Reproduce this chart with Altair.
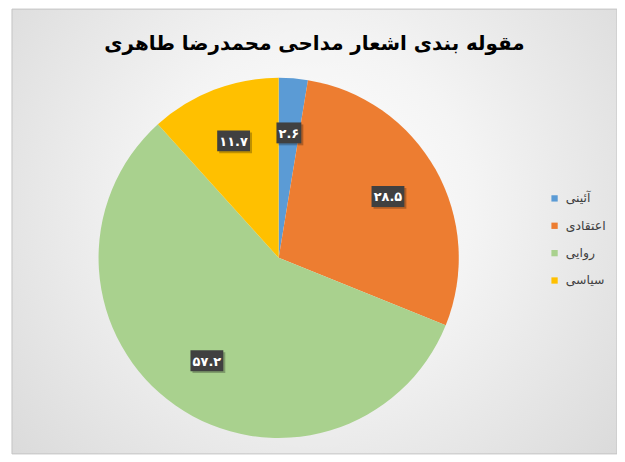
import pandas as pd
import altair as alt

categories = ["آئینی", "اعتقادی", "روایی", "سیاسی"]
values = [2.6, 28.5, 57.2, 11.7]
labels = ["۲.۶", "۲۸.۵", "۵۷.۲", "۱۱.۷"]
colors = ["#5B9BD5", "#ED7D31", "#A9D18E", "#FFC000"]

df = pd.DataFrame({"cat": categories, "val": values, "label": labels,
                   "order": range(len(categories))})

W, H = 608, 447
CX, CY, R = 268, 250, 181
LR = 126  # label radius

bg = alt.Chart(pd.DataFrame({"a": [0]})).mark_rect(
    color=alt.Gradient(
        gradient="radial",
        stops=[alt.GradientStop(color="#ffffff", offset=0),
               alt.GradientStop(color="#f4f4f4", offset=0.35),
               alt.GradientStop(color="#d4d4d4", offset=1)],
        x1=0.5, y1=0.45, r1=0, x2=0.5, y2=0.45, r2=0.75,
    ),
    stroke="#c4c4c4", strokeWidth=1,
).encode(x=alt.value(0), x2=alt.value(W), y=alt.value(0), y2=alt.value(H))

pie = alt.Chart(df).mark_arc(outerRadius=R).encode(
    theta=alt.Theta("val:Q", stack=True),
    order=alt.Order("order:Q"),
    color=alt.Color("cat:N", sort=categories,
                    scale=alt.Scale(domain=categories, range=colors),
                    legend=alt.Legend(title=None)),
    x=alt.value(CX), y=alt.value(CY),
)

lab = alt.Chart(df).transform_joinaggregate(
    total="sum(val)"
).transform_window(
    cum="sum(val)", sort=[alt.SortField("order")], frame=[None, 0]
).transform_calculate(
    ang="2*PI*(datum.cum - datum.val/2)/datum.total",
    px=f"{CX} + {LR}*sin(datum.ang)",
    py=f"{CY} - {LR}*cos(datum.ang)",
    hw="(8*length(datum.label) + 1)/2",
    x0="datum.px - datum.hw", x1="datum.px + datum.hw",
    y0="datum.py - 10.5", y1="datum.py + 10.5",
    sx0="datum.x0 + 2", sx1="datum.x1 + 2",
    sy0="datum.y0 + 2", sy1="datum.y1 + 2",
)

shadow = lab.mark_rect(color="#000000", opacity=0.25).encode(
    x=alt.X("sx0:Q", scale=None), x2="sx1:Q",
    y=alt.Y("sy0:Q", scale=None), y2="sy1:Q",
)
box = lab.mark_rect(color="#404040").encode(
    x=alt.X("x0:Q", scale=None), x2="x1:Q",
    y=alt.Y("y0:Q", scale=None), y2="y1:Q",
)
txt = lab.mark_text(color="white", font="DejaVu Sans", fontWeight="bold",
                    fontSize=13, baseline="middle", align="center", dy=1).encode(
    x=alt.X("px:Q", scale=None),
    y=alt.Y("py:Q", scale=None),
    text="label:N",
)

chart = alt.layer(bg, pie, shadow, box, txt).properties(
    width=W, height=H,
    autosize=alt.AutoSizeParams(type="none"),
    padding={"left": 4, "top": 0, "right": 0, "bottom": 0},
    title=alt.TitleParams(
        "مقوله بندی اشعار مداحی محمدرضا طاهری",
        font="DejaVu Sans", fontSize=20, fontWeight="bold", color="#000000",
        anchor="middle", offset=-46,
    ),
).configure_view(stroke=None).configure_legend(
    orient="none", legendX=539, legendY=184, symbolType="square",
    symbolSize=40, symbolStrokeWidth=0, labelFont="DejaVu Sans",
    labelFontSize=12.5, labelColor="#404040",
    rowPadding=14.5, labelOffset=5, padding=0,
)

chart.save("out.html", embed_options={"renderer": "svg", "actions": False})
